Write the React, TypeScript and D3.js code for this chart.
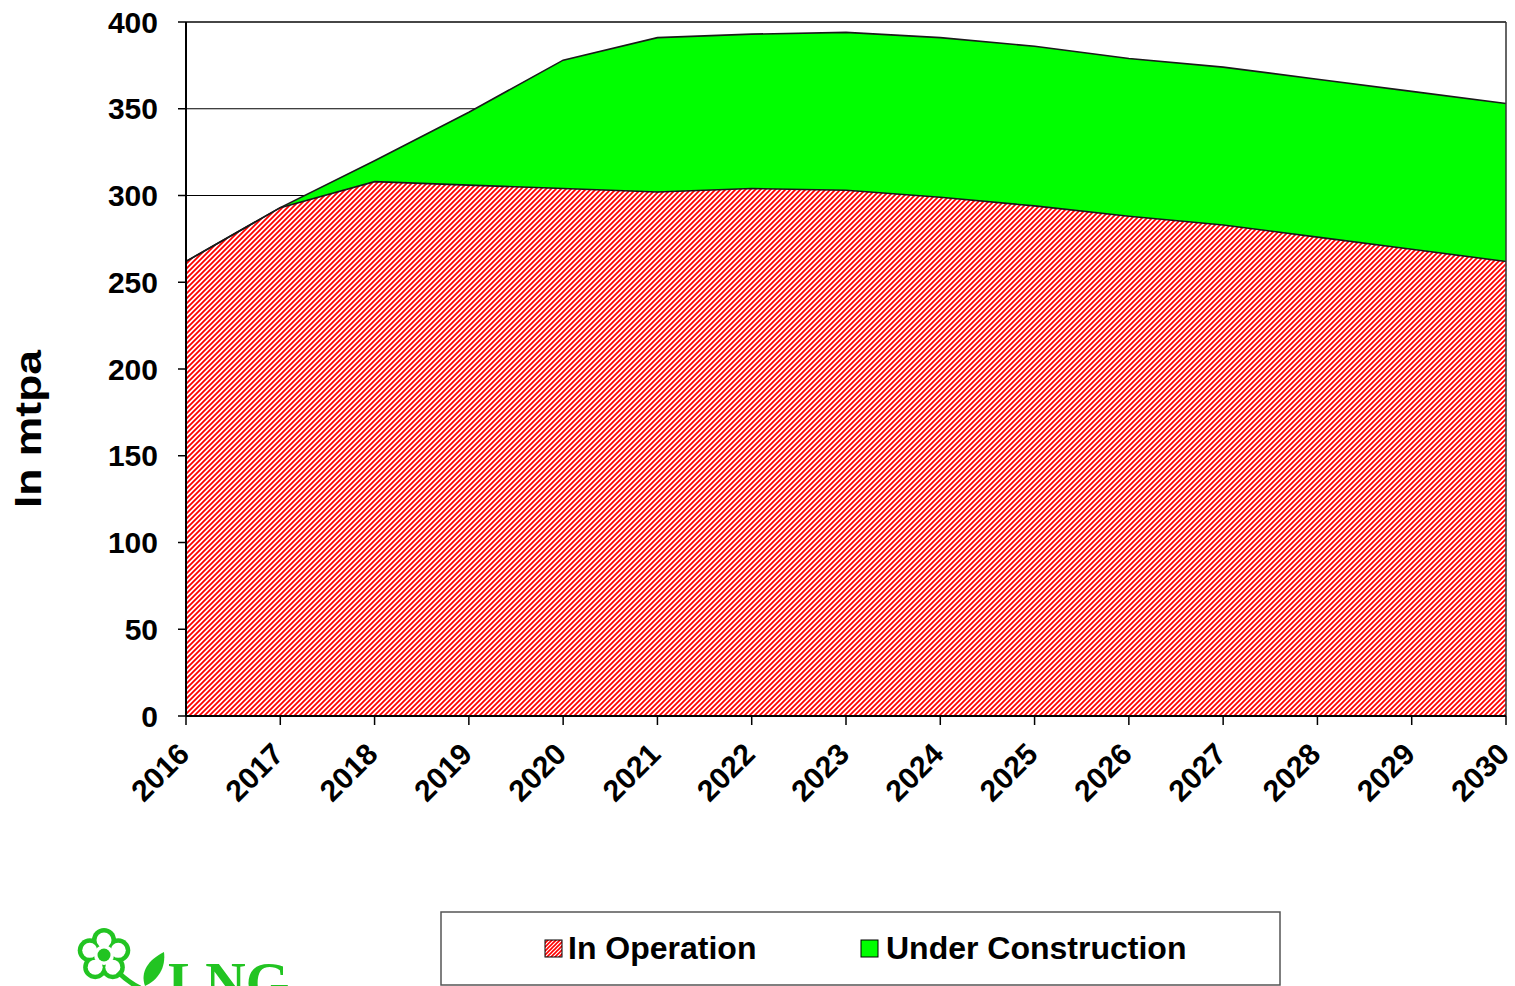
import React from "react";
import * as d3 from "d3";

const years: number[] = [2016, 2017, 2018, 2019, 2020, 2021, 2022, 2023, 2024, 2025, 2026, 2027, 2028, 2029, 2030];
const inOperation: number[] = [262, 293, 308, 306, 304, 302, 304, 303, 299, 294, 288, 283, 276, 269, 262];
const underConstruction: number[] = [0, 0, 12, 42, 74, 89, 89, 91, 92, 92, 91, 91, 91, 91, 91];
const yTicks: number[] = [0, 50, 100, 150, 200, 250, 300, 350, 400];
const seriesNames: string[] = ["In Operation", "Under Construction"];
const yTitle = "In mtpa";

const W = 1515;
const H = 986;
const M = { left: 186, right: 1506, top: 22, bottom: 716 };
const FONT = "'Liberation Sans', Arial, sans-serif";

export default function App() {
  const x = d3.scaleLinear().domain([years[0], years[years.length - 1]]).range([M.left, M.right]);
  const y = d3.scaleLinear().domain([0, 400]).range([M.bottom, M.top]);

  const rows = years.map((yr, i) => ({ year: yr, op: inOperation[i], uc: underConstruction[i] }));
  const stack = d3.stack<any>().keys(["op", "uc"]);
  const stacked = stack(rows);
  const area = d3
    .area<any>()
    .x((d) => x(d.data.year))
    .y0((d) => y(d[0]))
    .y1((d) => y(d[1]));
  const topLine = d3
    .line<any>()
    .x((d) => x(d.data.year))
    .y((d) => y(d[1]));

  // logo petals
  const cx = 104;
  const cy = 955;
  const petals = d3.range(5).map((k) => {
    const a = -Math.PI / 2 + (k * 2 * Math.PI) / 5;
    return { x: cx + 15 * Math.cos(a), y: cy + 15 * Math.sin(a) };
  });

  return (
    <svg width={W} height={H} style={{ position: "absolute", left: 0, top: 0, background: "#fff" }}>
      <defs>
        <pattern id="hatch" patternUnits="userSpaceOnUse" width={5} height={5}>
          <rect width={5} height={5} fill="#fff" />
          <path d="M0,5 L5,0 M-1,1 L1,-1 M4,6 L6,4" stroke="#ff0000" strokeWidth={1.8} />
        </pattern>
        <pattern id="hatchL" patternUnits="userSpaceOnUse" width={4} height={4}>
          <rect width={4} height={4} fill="#fff" />
          <path d="M0,4 L4,0 M-1,1 L1,-1 M3,5 L5,3" stroke="#ff0000" strokeWidth={1.6} />
        </pattern>
      </defs>
      <rect width={W} height={H} fill="#fff" />

      {/* gridlines */}
      {yTicks.map((t) => (
        <line key={"g" + t} x1={M.left} x2={M.right} y1={y(t)} y2={y(t)} stroke="#000" strokeWidth={1.2} />
      ))}

      {/* areas */}
      <path d={area(stacked[0]) || ""} fill="url(#hatch)" stroke="none" />
      <path d={area(stacked[1]) || ""} fill="#00ff00" stroke="none" />
      <path d={topLine(stacked[0]) || ""} fill="none" stroke="#1a1a1a" strokeWidth={1.6} />
      <path d={topLine(stacked[1]) || ""} fill="none" stroke="#1a1a1a" strokeWidth={1.6} />

      {/* frame */}
      <line x1={M.right} x2={M.right} y1={M.top} y2={M.bottom} stroke="#333" strokeWidth={1.5} />
      <line x1={M.left} x2={M.right} y1={M.top} y2={M.top} stroke="#333" strokeWidth={1.5} />
      <line x1={M.left} x2={M.left} y1={M.top} y2={M.bottom} stroke="#000" strokeWidth={2} />
      <line x1={M.left} x2={M.right} y1={M.bottom} y2={M.bottom} stroke="#000" strokeWidth={2} />

      {/* y ticks */}
      {yTicks.map((t) => (
        <g key={"yt" + t}>
          <line x1={M.left - 8} x2={M.left} y1={y(t)} y2={y(t)} stroke="#000" strokeWidth={1.5} />
          <text
            x={158}
            y={y(t)}
            dy="0.35em"
            textAnchor="end"
            fontFamily={FONT}
            fontWeight="bold"
            fontSize={30}
            fill="#000"
          >
            {t}
          </text>
        </g>
      ))}

      {/* x ticks */}
      {years.map((yr) => (
        <g key={"xt" + yr}>
          <line x1={x(yr)} x2={x(yr)} y1={M.bottom} y2={M.bottom + 9} stroke="#000" strokeWidth={1.5} />
          <text
            transform={`translate(${x(yr) + 5},${756}) rotate(-45)`}
            textAnchor="end"
            fontFamily={FONT}
            fontWeight="bold"
            fontSize={30}
            fill="#000"
          >
            {yr}
          </text>
        </g>
      ))}

      {/* y title */}
      <text
        transform={`translate(41,429) rotate(-90)`}
        textAnchor="middle"
        fontFamily={FONT}
        fontWeight="bold"
        fontSize={36}
        textLength={158}
        lengthAdjust="spacingAndGlyphs"
        fill="#000"
      >
        {yTitle}
      </text>

      {/* legend */}
      <rect x={441} y={912} width={839} height={73} fill="#fff" stroke="#555" strokeWidth={1.5} />
      <rect x={545} y={940} width={17} height={17} fill="url(#hatchL)" stroke="#000" strokeWidth={1} />
      <text x={568} y={959} fontFamily={FONT} fontWeight="bold" fontSize={32} fill="#000">
        {seriesNames[0]}
      </text>
      <rect x={861} y={940} width={17} height={17} fill="#00ff00" stroke="#000" strokeWidth={1} />
      <text x={886} y={959} fontFamily={FONT} fontWeight="bold" fontSize={32} fill="#000">
        {seriesNames[1]}
      </text>

      {/* logo */}
      <g>
        {petals.map((p, i) => (
          <circle key={"po" + i} cx={p.x} cy={p.y} r={12} fill="#22c422" />
        ))}
        {petals.map((p, i) => (
          <circle key={"pi" + i} cx={p.x} cy={p.y} r={7.5} fill="#fff" />
        ))}
        <circle cx={cx} cy={cy} r={10} fill="#fff" />
        <circle cx={cx} cy={cy} r={6.5} fill="#22c422" />
        <path d="M118,972 Q128,982 140,988" stroke="#22c422" strokeWidth={5} fill="none" />
        <path d="M145,986 C140,972 148,960 164,952 C166,968 158,980 145,986 Z" fill="#22c422" />
        <text x={168} y={1002} fontFamily="'Liberation Serif', 'Times New Roman', serif" fontWeight="bold" fontSize={56} fill="#22c422">
          LNG
        </text>
      </g>
    </svg>
  );
}
